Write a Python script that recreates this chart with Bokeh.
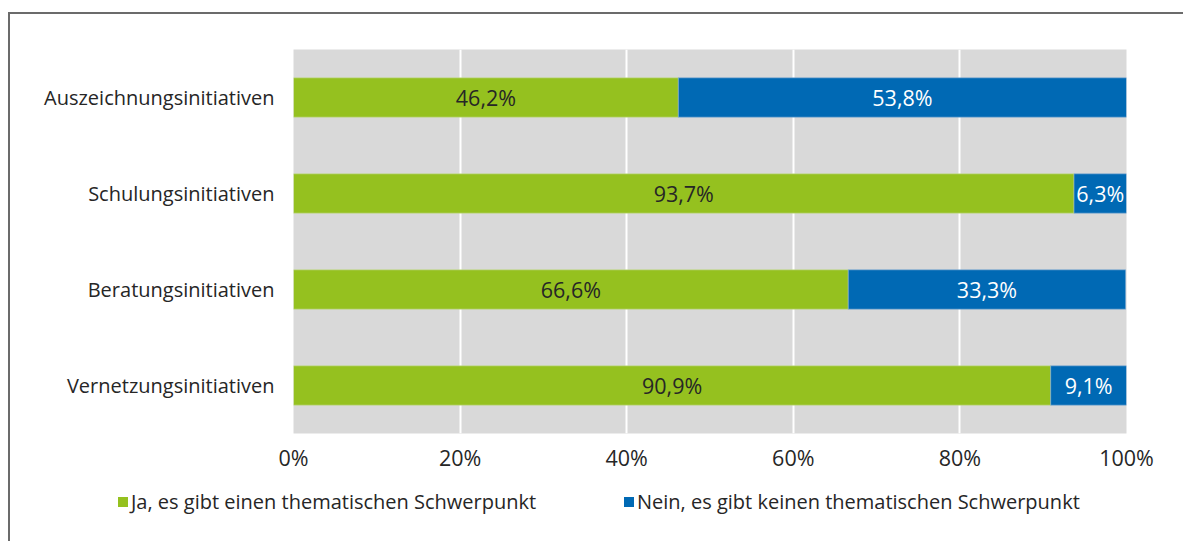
from bokeh.plotting import figure
from bokeh.layouts import column
from bokeh.models import (ColumnDataSource, FactorRange, Range1d, FixedTicker, Div,
                          Grid, CustomJSTickFormatter, LabelSet)
from bokeh.core.properties import value
from bokeh.embed import file_html
from bokeh.resources import INLINE

categories = ["Auszeichnungsinitiativen", "Schulungsinitiativen",
              "Beratungsinitiativen", "Vernetzungsinitiativen"]
ja_values = [46.2, 93.7, 66.6, 90.9]
nein_values = [53.8, 6.3, 33.3, 9.1]
series_names = ["Ja, es gibt einen thematischen Schwerpunkt",
                "Nein, es gibt keinen thematischen Schwerpunkt"]
x_ticks = [0, 20, 40, 60, 80, 100]

GREEN = "#95C11F"
BLUE = "#0069B4"
FONT = "Open Sans"
FS = "20px"
FS_NUM = "21.5px"
TXT = "#262626"

# content area starts 8px+2px border from left, 12px+2px border from top
W = 1173
H_MAIN = 465
H_LEG = 62

def fmt(v):
    return f"{v:.1f}".replace(".", ",") + "%"

src = ColumnDataSource(dict(
    cat=categories,
    ja_end=ja_values,
    nein_end=[a + b for a, b in zip(ja_values, nein_values)],
    ja_mid=[a / 2 for a in ja_values],
    nein_mid=[a + b / 2 for a, b in zip(ja_values, nein_values)],
    ja_lbl=[fmt(v) for v in ja_values],
    nein_lbl=[fmt(v) for v in nein_values],
))

p = figure(width=W, height=H_MAIN, output_backend="svg", toolbar_location=None,
           y_range=FactorRange(*list(reversed(categories))),
           x_range=Range1d(0, 100),
           min_border_left=283, min_border_right=57,
           min_border_top=35, min_border_bottom=46)
p.background_fill_color = "#D9D9D9"
p.border_fill_color = "white"
p.outline_line_color = None
p.xgrid.visible = False
p.ygrid.visible = False
p.add_layout(Grid(dimension=0, ticker=FixedTicker(ticks=[20, 40, 60, 80]),
                  grid_line_color="white", grid_line_width=2))

p.hbar(y="cat", left=0, right="ja_end", height=0.41, source=src,
       fill_color=GREEN, line_color="#c9dca0", line_width=0.6)
p.hbar(y="cat", left="ja_end", right="nein_end", height=0.41, source=src,
       fill_color=BLUE, line_color="#8fb3d6", line_width=0.6)

p.add_layout(LabelSet(x="ja_mid", y="cat", text="ja_lbl", source=src,
                      text_align="center", text_baseline="middle",
                      text_font=value(FONT), text_font_size=FS_NUM, text_color=TXT))
p.add_layout(LabelSet(x="nein_mid", y="cat", text="nein_lbl", source=src,
                      text_align="center", text_baseline="middle",
                      text_font=value(FONT), text_font_size=FS_NUM, text_color="white"))

p.xaxis.ticker = FixedTicker(ticks=x_ticks)
p.xaxis.formatter = CustomJSTickFormatter(code="return tick + '%';")
for ax in (p.xaxis, p.yaxis):
    ax.axis_line_color = None
    ax.major_tick_line_color = None
    ax.minor_tick_line_color = None
    ax.major_label_text_font = FONT
    ax.major_label_text_color = TXT
p.xaxis.major_label_text_font_size = FS_NUM
p.yaxis.major_label_text_font_size = FS
p.xaxis.major_label_standoff = 3
p.yaxis.major_label_standoff = 13

# legend strip (HTML)
legend_left = [108, 614]
legend_colors = [GREEN, BLUE]
items_html = ""
for left, color, name in zip(legend_left, legend_colors, series_names):
    items_html += (
        f'<div style="position:absolute;left:{left}px;top:13px;display:flex;'
        f'align-items:center;white-space:nowrap;height:20px;">'
        f'<span style="display:inline-block;width:10px;height:10px;'
        f'background:{color};margin-right:3px;"></span>'
        f'<span style="line-height:20px;">{name}</span></div>'
    )
legend_div = Div(
    text=(f'<div style="position:relative;width:{W}px;height:{H_LEG}px;'
          f'font-family:\'Open Sans\';font-size:20px;color:{TXT};">'
          f'{items_html}</div>'),
    width=W, height=H_LEG, margin=0)

layout = column(p, legend_div, spacing=0,
                styles={"margin-left": "8px", "margin-top": "12px",
                        "border-top": "2px solid #6b6b6b",
                        "border-left": "2px solid #6b6b6b"})

open("out.html", "w").write(file_html(layout, INLINE))
